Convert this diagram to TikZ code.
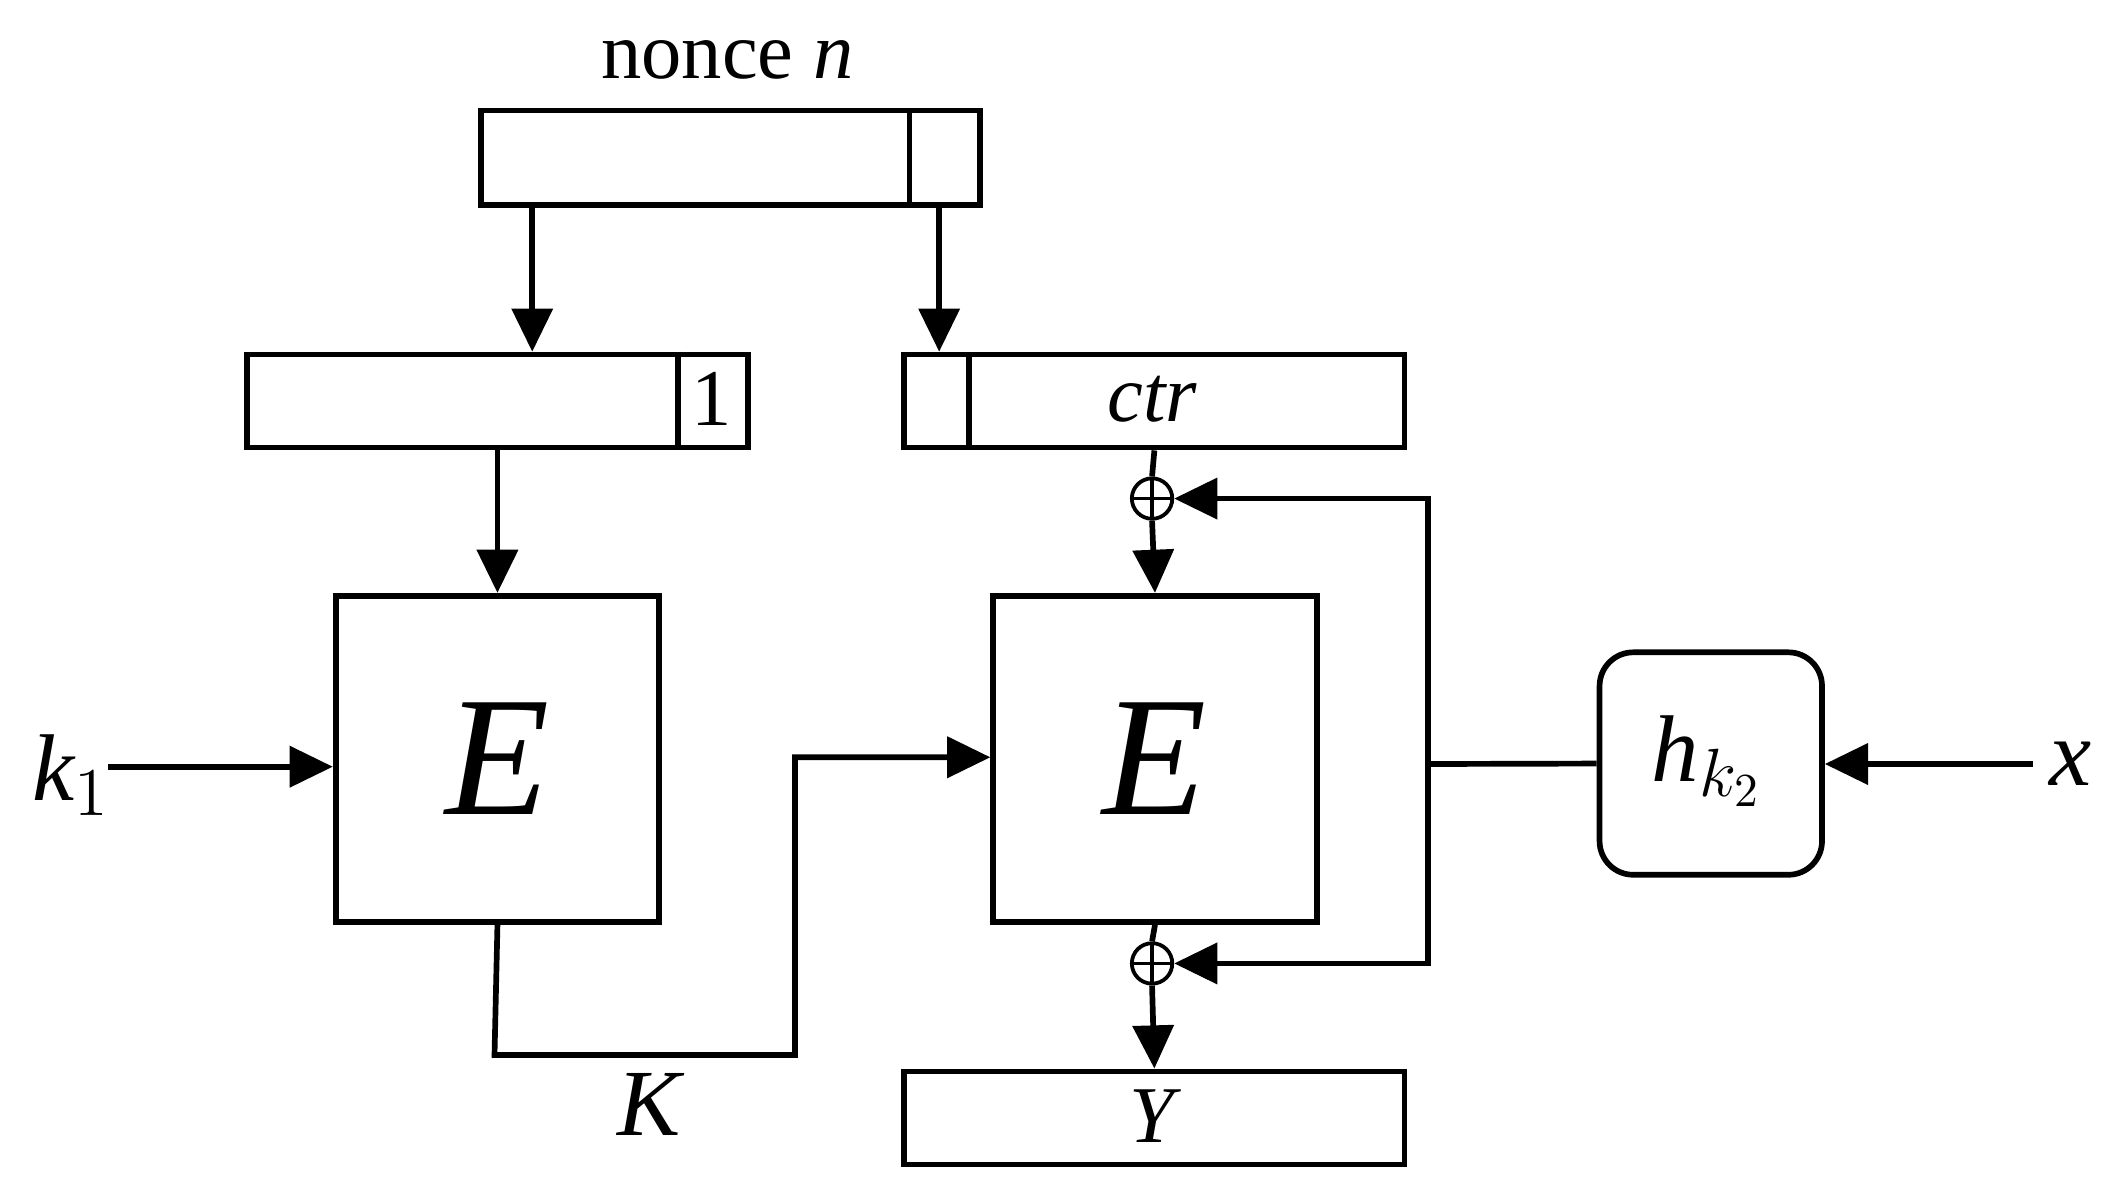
\documentclass[tikz,border=0pt]{standalone}
\usepackage{fontspec}
\setmainfont{Liberation Serif}
\usetikzlibrary{arrows.meta,calc}
\tikzset{
  blk/.style={draw, line width=1.2pt, inner sep=0pt},
  arr/.style={line width=1.2pt, -{Triangle[length=0.32cm,width=0.3cm]}},
  ln/.style={line width=1.2pt},
  xr/.style={draw, circle, line width=0.8pt, minimum size=0.3cm, inner sep=0pt,
    path picture={\draw[line width=0.8pt] (path picture bounding box.north)--(path picture bounding box.south)
      (path picture bounding box.west)--(path picture bounding box.east);}},
  lbl/.style={font=\fontsize{17}{19}\selectfont},
  big/.style={font=\fontsize{36}{38}\selectfont\itshape}
}
\begin{document}
\begin{tikzpicture}[x=0.01cm,y=-0.01cm]
\useasboundingbox (0,0) rectangle (1560,881);
% boxes
\node[blk, minimum width=3.7cm, minimum height=0.7cm, anchor=north west] (nonce) at (355,80) {};
\draw[ln] (675,80) -- (675,150);
\node[lbl, anchor=base] (nt) at (540,58) {nonce \textit{n}};
\node[blk, minimum width=3.72cm, minimum height=0.69cm, anchor=north west] (kb) at (181,261) {};
\draw[ln] (503,261) -- (503,330);
\node[lbl] (one) at (528,296) {1};
\node[blk, minimum width=3.71cm, minimum height=0.69cm, anchor=north west] (cb) at (669,261) {};
\draw[ln] (719,261) -- (719,330);
\node[lbl, font=\fontsize{17}{19}\selectfont\itshape] (ctr) at (855,296) {ctr};
\node[blk, minimum width=2.4cm, minimum height=2.42cm, anchor=north west, big] (E1) at (247,440) {E};
\node[blk, minimum width=2.4cm, minimum height=2.42cm, anchor=north west, big] (E2) at (735,440) {E};
\node[blk, minimum width=3.71cm, minimum height=0.69cm, anchor=north west] (Yb) at (669,793) {};
\node[lbl, font=\fontsize{17}{19}\selectfont\itshape] (Y) at (855,828) {Y};
\node[blk, rounded corners=0.25cm, minimum width=1.65cm, minimum height=1.65cm, anchor=north west] (h) at (1185,482) {};
\node[lbl, font=\fontsize{20}{22}\selectfont\itshape] (ht) at (1267,565) {h$_{k_2}$};
\node[xr] (x1) at (855,370) {};
\node[xr] (x2) at (855,715) {};
\node[lbl, font=\fontsize{20}{22}\selectfont\itshape, anchor=west] (k1) at (12,575) {k$_{1}$};
\node[lbl, font=\fontsize{20}{22}\selectfont\itshape] (x) at (1537,567) {x};
\node[lbl, font=\fontsize{20}{22}\selectfont\itshape] (K) at (482,820) {K};
\coordinate (fb) at (1060,567);
% connectors
\draw[arr] (nonce.south -| 395,0) -- (kb.north -| 395,0);
\draw[arr] (nonce.south -| 697,0) -- (cb.north -| 697,0);
\draw[arr] (kb.south -| E1.north) -- (E1.north);
\draw[ln] (cb.south) -- (x1.north);
\draw[arr] (x1.south) -- (E2.north);
\draw[ln] (E2.south) -- (x2.north);
\draw[arr] (x2.south) -- (Yb.north);
\draw[arr] (80,569) -- (E1.west |- 0,569);
\draw[arr] (x.west) -- (h.east |- x.west);
\draw[ln] (h.west) -- (fb);
\draw[arr] (fb) -- (1060,370) -- (x1.east);
\draw[arr] (fb) -- (1060,715) -- (x2.east);
\draw[arr] (E1.south) -- (367,783) -- (590,783) -- (590,562) -- (E2.west |- 0,562);
\end{tikzpicture}
\end{document}
